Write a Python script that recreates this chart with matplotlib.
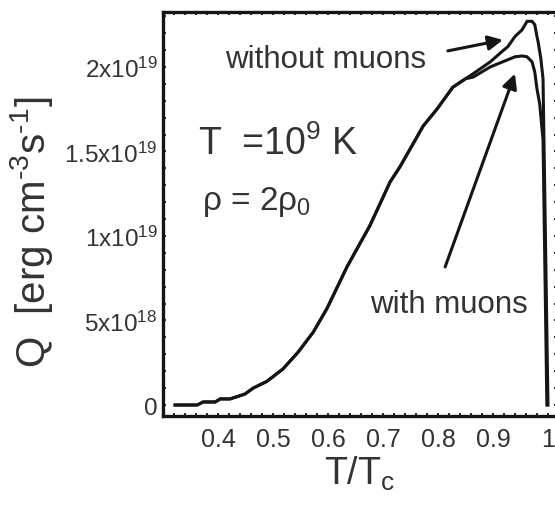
import matplotlib
matplotlib.use("Agg")
import matplotlib.pyplot as plt
import numpy as np
from matplotlib.ticker import FixedFormatter, FixedLocator, MultipleLocator

plt.rcParams["font.family"] = ["Liberation Sans", "DejaVu Sans"]
plt.rcParams["mathtext.fontset"] = "custom"
plt.rcParams["mathtext.rm"] = "Liberation Sans"
plt.rcParams["mathtext.it"] = "Liberation Sans"
plt.rcParams["mathtext.default"] = "regular"

# emissivity curves, Q in units of 1e18 erg cm^-3 s^-1
t_common = [0.322, 0.362, 0.373, 0.395, 0.404, 0.422, 0.449, 0.464, 0.489, 0.518,
            0.545, 0.573, 0.598, 0.635, 0.676, 0.713, 0.731, 0.773, 0.798, 0.827, 0.850]
q_common = [0.0, 0.0, 0.18, 0.18, 0.36, 0.36, 0.65, 1.0, 1.4, 2.13,
            3.1, 4.3, 5.7, 8.2, 10.6, 13.2, 14.1, 16.5, 17.5, 18.8, 19.3]

t_without = [0.864, 0.895, 0.916, 0.927, 0.940, 0.953, 0.962, 0.971, 0.976, 0.980,
             0.982, 0.987, 0.991, 1.000]
q_without = [19.6, 20.3, 20.9, 21.2, 21.8, 22.2, 22.7, 22.7, 22.5, 21.8,
             21.5, 20.5, 19.3, 0.0]

t_with = [0.864, 0.895, 0.925, 0.940, 0.953, 0.962, 0.971, 0.976, 0.980, 0.985,
          0.991, 0.998]
q_with = [19.4, 20.0, 20.4, 20.6, 20.65, 20.6, 20.3, 19.7, 18.7, 17.8,
          15.7, 0.0]

x_ticks = [0.4, 0.5, 0.6, 0.7, 0.8, 0.9, 1.0]
x_labels = ["0.4", "0.5", "0.6", "0.7", "0.8", "0.9", "1"]
y_ticks = [0.0, 5e18, 1e19, 1.5e19, 2e19]
y_labels = ["0", r"5x10$^{18}$", r"1x10$^{19}$", r"1.5x10$^{19}$", r"2x10$^{19}$"]

ink = "#151515"
text_col = "#333333"

fig = plt.figure(figsize=(5.55, 5.06), dpi=100)
ax = fig.add_axes([163 / 555, 1 - 417 / 506, (556.5 - 163) / 555, (417 - 13) / 506])

scale = 1e18
for t_tail, q_tail in [(t_without, q_without), (t_with, q_with)]:
    t = np.array(t_common + t_tail)
    q = np.array(q_common + q_tail) * scale
    ax.plot(t, q, color=ink, lw=2.2, solid_joinstyle="miter")

ax.set_xlim(0.3, 1.0155)
ax.set_ylim(-0.65e18, 23.25e18)

ax.xaxis.set_major_locator(FixedLocator(x_ticks))
ax.xaxis.set_major_formatter(FixedFormatter(x_labels))
ax.xaxis.set_minor_locator(MultipleLocator(0.02))
ax.yaxis.set_major_locator(FixedLocator(y_ticks))
ax.yaxis.set_major_formatter(FixedFormatter(y_labels))
ax.yaxis.set_minor_locator(MultipleLocator(1e18))

ax.tick_params(which="both", direction="in", top=True, right=True,
               length=2.5, width=1.3, color=ink)
ax.tick_params(axis="x", which="major", pad=8, labelsize=18, labelcolor=text_col)
ax.tick_params(axis="y", which="major", pad=4, labelsize=17.5, labelcolor=text_col)
for spine in ax.spines.values():
    spine.set_linewidth(2.4)
    spine.set_color(ink)

ax.set_xlabel(r"T/T$_c$", fontsize=27, color=text_col, labelpad=2)
ax.set_ylabel(r"Q  [erg cm$^{\text{-}3}$s$^{\text{-}1}$]", fontsize=29,
              color=text_col, va="center")
ax.yaxis.set_label_coords(-0.333, 0.458)

ax.text(0.3636, 14.85e18, r"T  =10$^9$ K", fontsize=27, color=text_col, va="baseline")
ax.text(0.371, 11.6e18, r"ρ = 2ρ$_0$", fontsize=24, color=text_col, va="baseline")

arrow = dict(arrowstyle="-|>", color=ink, lw=2.2, mutation_scale=22,
             shrinkA=0, shrinkB=0)
ax.text(0.4127, 20.0e18, "without muons", fontsize=22.5, color=text_col, va="baseline")
ax.annotate("", xy=(0.918, 21.6e18), xytext=(0.818, 20.95e18), arrowprops=arrow)
ax.text(0.676, 5.5e18, "with muons", fontsize=22.5, color=text_col, va="baseline")
ax.annotate("", xy=(0.94, 19.6e18), xytext=(0.813, 8.17e18), arrowprops=arrow)

fig.savefig("out.png", dpi=100)
